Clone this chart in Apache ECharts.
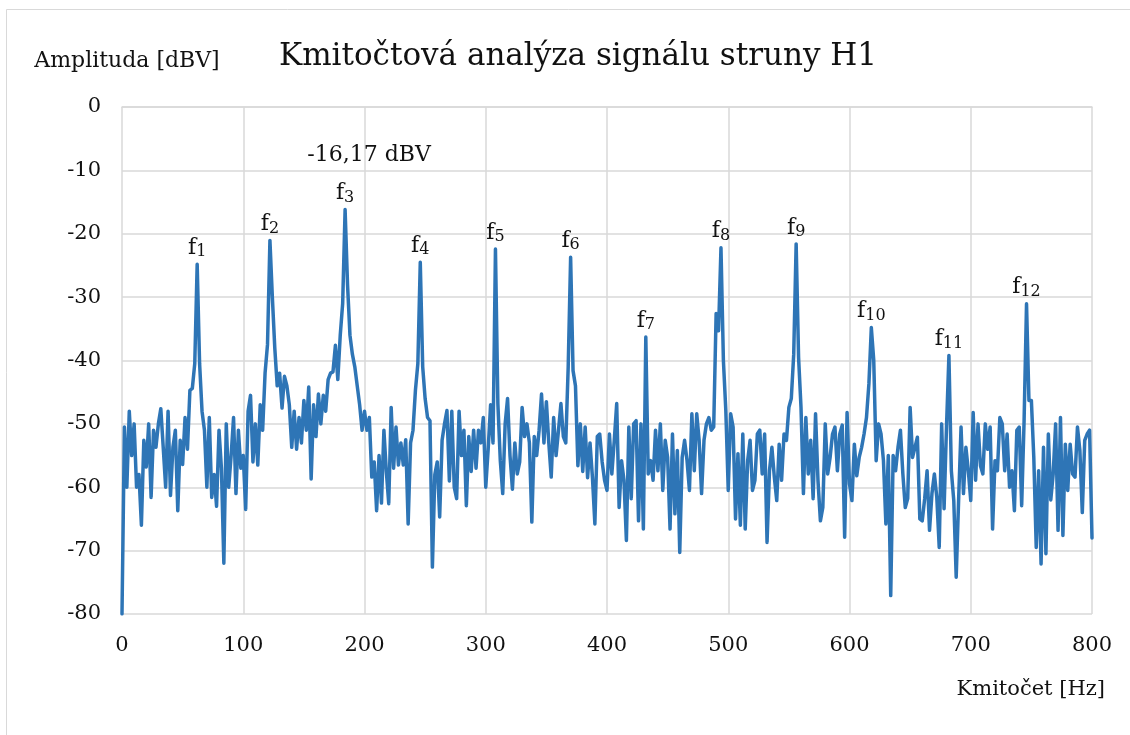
<!DOCTYPE html>
<html>
<head>
<meta charset="utf-8">
<title>Kmitočtová analýza signálu struny H1</title>
<script src="https://cdn.jsdelivr.net/npm/echarts@6.0.0/dist/echarts.min.js"></script>
<style>
  html, body { margin: 0; padding: 0; background: #fff; }
  #chart { width: 1130px; height: 735px; }
</style>
</head>
<body>
<div id="chart"></div>
<script>
// spektrum: krok 2 Hz, 0 .. 800 Hz
const FREQ_STEP = 2
const amplitude = [
  -80, -50.5, -60, -48, -55, -50, -60, -58, -66, -52.6,
  -56.8, -50, -61.6, -51, -53.7, -50, -47.6, -53.7, -60, -48,
  -61.3, -53.7, -51, -63.7, -52.6, -56.4, -49, -54, -44.7, -44.4,
  -40.5, -24.8, -40.5, -48, -51, -60, -49, -61.6, -58, -63,
  -51, -57, -72, -50, -60, -55, -49, -61, -51, -57,
  -55, -63.5, -48, -45.5, -56, -50, -56.5, -47, -51, -42,
  -37.5, -21.05, -30, -38, -44, -42, -47.5, -42.5, -44, -47,
  -53.7, -48, -54, -49, -53, -46.3, -51, -44.2, -58.7, -47,
  -52, -45.3, -50, -45.5, -48, -43, -42, -41.8, -37.6, -43,
  -36, -31, -16.17, -28, -36, -39, -41, -44, -47, -51,
  -48, -51, -49, -58.4, -56, -63.7, -55, -62.5, -51, -57.5,
  -62.6, -47.4, -57, -50.5, -56.5, -53, -56.5, -52.5, -65.8, -53,
  -51, -44.7, -40.5, -24.5, -41, -46, -49, -49.5, -72.6, -58,
  -56, -64.7, -52.6, -50, -47.9, -59, -48, -60, -61.8, -48,
  -55, -51, -62.9, -52, -57.5, -51, -57, -51, -53, -49,
  -60, -54, -47, -53, -22.4, -46.8, -55.8, -61, -50, -46,
  -55, -60.3, -53, -57.9, -56, -47.4, -52, -50, -53, -65.5,
  -52, -55, -51, -45.3, -53, -46.5, -53, -58.4, -49, -55,
  -51, -46.8, -52, -53, -41, -23.7, -41.6, -44, -56.6, -50,
  -57.5, -50.5, -58.5, -53, -58.5, -65.8, -52, -51.6, -56, -58.9,
  -60.5, -51.6, -57.9, -52.6, -46.8, -63.2, -55.8, -58.9, -68.4, -50.5,
  -61.8, -50, -49.5, -65.3, -50, -66.6, -36.3, -57.9, -55.8, -58.9,
  -51, -57.4, -50, -60.5, -52.6, -55.3, -66.6, -51.6, -64.2, -54.2,
  -70.3, -55.3, -52.6, -55.8, -60.5, -48.4, -57.4, -48.4, -52.6, -61,
  -52.6, -50, -49, -51, -50.5, -32.6, -35.3, -22.2, -40, -47.9,
  -60.5, -48.4, -50.5, -65, -54.7, -66, -51.6, -66.6, -55.8, -52.6,
  -60.5, -58.9, -51.6, -51, -57.9, -51.6, -68.7, -57.4, -53.7, -58.4,
  -62.1, -53.2, -58.9, -51.6, -52.6, -47.4, -46, -39, -21.6, -39.5,
  -47.4, -61, -49, -57.9, -52.6, -61.8, -48.4, -58.9, -65.3, -63.2,
  -50, -57.9, -55.3, -51.6, -50.5, -57.4, -51.6, -50.2, -67.9, -48.2,
  -59.5, -62.1, -53.2, -58.2, -55.3, -53.7, -51.6, -49, -43.7, -34.8,
  -40, -55.8, -50, -51.6, -55.8, -65.8, -55, -77.1, -55, -57.4,
  -53.7, -51, -57.9, -63.2, -61.8, -47.4, -55.3, -53.7, -52.1, -65,
  -65.3, -61.8, -57.4, -66.8, -61, -57.9, -61.6, -69.5, -50, -63.4,
  -50.5, -39.2, -57.4, -62.1, -74.2, -62, -50.5, -61, -53.7, -57.4,
  -62.1, -48.2, -58.9, -50, -56.6, -57.9, -50, -54, -50.5, -66.6,
  -55.8, -57.4, -49, -50, -57.4, -51.6, -60, -57.4, -63.7, -51,
  -50.5, -62.9, -49.5, -31.05, -46.3, -46.3, -55.3, -69.5, -57.4, -72.1,
  -53.7, -70.5, -51.6, -62, -57.9, -50, -66.8, -49, -67.6, -53.2,
  -60.5, -53.2, -57.9, -58.4, -50.5, -54.2, -64, -52.6, -51.6, -51,
  -68
]

// harmonicke slozky f1 .. f12
const harmonicFreq = [62, 122, 184, 246, 308, 370, 432, 494, 556, 618, 682, 746]
const harmonicNum = [1, 2, 3, 4, 5, 6, 7, 8, 9, 10, 11, 12]
const maxHarmonic = 3  // f3 nese popisek s hodnotou

const FONT = 'DejaVu Serif'
const TEXT = '#111'
const GRID = '#d9d9d9'

const spectrum = amplitude.map((a, i) => [i * FREQ_STEP, a])
const peaks = harmonicFreq.map((f, i) => [f, amplitude[f / FREQ_STEP], harmonicNum[i]])
const maxFreq = harmonicFreq[maxHarmonic - 1]
const maxPoint = [[maxFreq, amplitude[maxFreq / FREQ_STEP]]]

const chart = echarts.init(document.getElementById('chart'))
chart.setOption({
  animation: false,
  backgroundColor: '#fff',
  title: {
    text: 'Kmitočtová analýza signálu struny H1',
    left: 274,
    top: 36,
    textStyle: { fontFamily: FONT, fontSize: 31, fontWeight: 'normal', color: TEXT }
  },
  graphic: [
    {
      type: 'rect',
      shape: { x: 6.5, y: 9.5, width: 1130, height: 740 },
      style: { fill: 'none', stroke: GRID, lineWidth: 1 },
      silent: true
    },
    {
      // popis osy x
      type: 'text',
      right: 25,
      top: 679,
      style: { text: 'Kmitočet [Hz]', font: '21px "DejaVu Serif"', fill: TEXT }
    }
  ],
  grid: { left: 122, right: 38, top: 107, bottom: 121 },
  xAxis: {
    type: 'value',
    min: 0,
    max: 800,
    interval: 100,
    axisLine: { lineStyle: { color: GRID, width: 1.5 } },
    axisTick: { show: false },
    axisLabel: { fontFamily: FONT, fontSize: 21, color: TEXT, margin: 21 },
    splitLine: { show: true, lineStyle: { color: GRID, width: 1.5 } }
  },
  yAxis: {
    type: 'value',
    min: -80,
    max: 0,
    interval: 10,
    name: 'Amplituda [dBV]',
    nameLocation: 'end',
    nameGap: 35,
    nameTextStyle: { fontFamily: FONT, fontSize: 22, color: TEXT, align: 'center', padding: [0, 0, 0, 10] },
    axisLine: { show: false },
    axisTick: { show: false },
    axisLabel: { fontFamily: FONT, fontSize: 21, color: TEXT, margin: 21 },
    splitLine: { show: true, lineStyle: { color: GRID, width: 1.5 } }
  },
  series: [
    {
      name: 'spektrum',
      type: 'line',
      data: spectrum,
      showSymbol: false,
      lineStyle: { color: '#2e75b6', width: 3.5, join: 'round', cap: 'round' },
      z: 2
    },
    {
      name: 'harmonicke',
      type: 'scatter',
      data: peaks,
      symbolSize: 0,
      itemStyle: { color: '#2e75b6', opacity: 1 },
      label: {
        show: true,
        position: 'top',
        distance: 4,
        color: TEXT,
        opacity: 1,
        formatter: p => '{f|f}{s|' + p.data[2] + '}',
        rich: {
          f: { fontFamily: FONT, fontSize: 22, color: TEXT, verticalAlign: 'top', lineHeight: 23 },
          s: { fontFamily: FONT, fontSize: 16, color: TEXT, verticalAlign: 'bottom', lineHeight: 17, padding: [10, 0, 0, 0] }
        }
      },
      z: 3
    },
    {
      name: 'maximum',
      type: 'scatter',
      data: maxPoint,
      symbolSize: 0,
      itemStyle: { color: '#2e75b6', opacity: 1 },
      label: {
        show: true,
        position: 'top',
        distance: 43,
        offset: [24, 0],
        fontFamily: FONT,
        fontSize: 22,
        color: TEXT,
        opacity: 1,
        formatter: p => p.data[1].toFixed(2).replace('.', ',') + ' dBV'
      },
      z: 3
    }
  ]
})
</script>
</body>
</html>
